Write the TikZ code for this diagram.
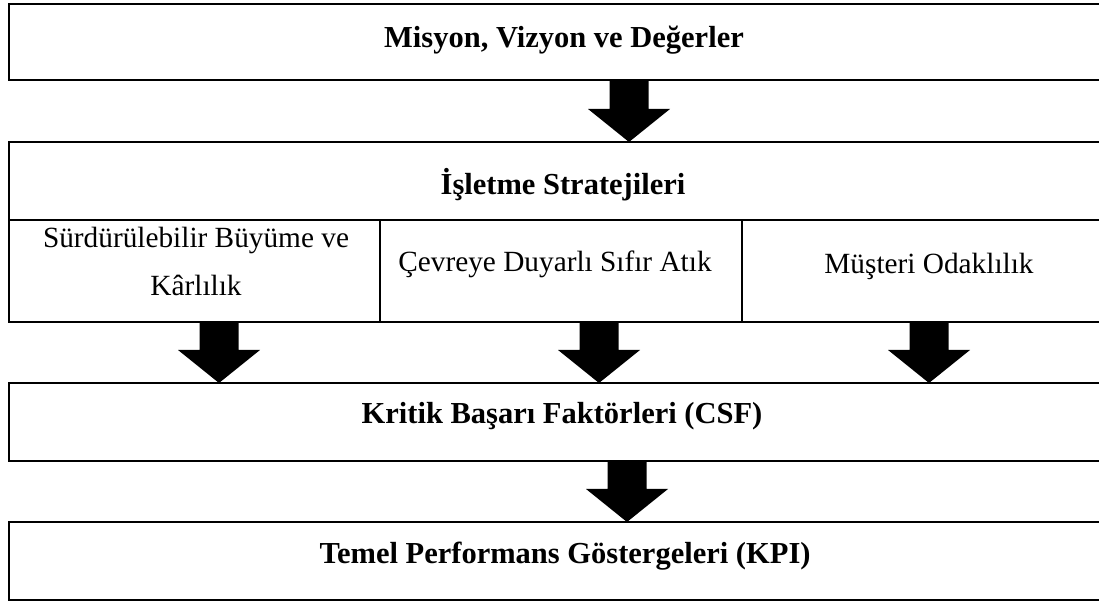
\documentclass[tikz,border=0pt]{standalone}
\usepackage{fontspec}
\setmainfont{Liberation Serif}
\usetikzlibrary{calc}

% Thick block arrow from the bottom of box #1 down to the top of box #2, centred at x = #3 (pt)
\newcommand\blockarrow[3]{%
  \fill[black] let \p1=(#1.south), \p2=(#2.north) in
    (#3pt-19.5pt,\y1) -- (#3pt+19.5pt,\y1) -- (#3pt+19.5pt,\y2+33pt) --
    (#3pt+41pt,\y2+33pt) -- (#3pt,\y2) -- (#3pt-41pt,\y2+33pt) --
    (#3pt-19.5pt,\y2+33pt) -- cycle;}

\begin{document}
\begin{tikzpicture}[x=1pt,y=1pt,
  box/.style={draw=black, line width=2pt, rectangle, inner sep=0pt, outer sep=0pt},
  heading/.style={font=\fontsize{30.5}{36}\selectfont\bfseries, anchor=base, inner sep=0pt},
  item/.style={font=\fontsize{29.3}{36}\selectfont, anchor=base, inner sep=0pt}]

\useasboundingbox (0,0) rectangle (1099,601);
\clip (0,0) rectangle (1099,601);

% boxes
\node[box, minimum width=1110pt, minimum height=76pt] (mvv) at (564,559) {};
\node[box, minimum width=1110pt, minimum height=78pt] (strat) at (564,420) {};
\node[box, minimum width=371pt, minimum height=102pt] (s1) at (194.5,330) {};
\node[box, minimum width=362pt, minimum height=102pt] (s2) at (561,330) {};
\node[box, minimum width=377pt, minimum height=102pt] (s3) at (930.5,330) {};
\node[box, minimum width=1110pt, minimum height=78pt] (csf) at (564,179) {};
\node[box, minimum width=1110pt, minimum height=78pt] (kpi) at (564,40) {};

% texts
\node[heading] (tmvv) at (564,553) {Misyon, Vizyon ve Değerler};
\node[heading] (tstrat) at (563,406) {İşletme Stratejileri};
\node[item] (ts1a) at (196,353) {Sürdürülebilir Büyüme ve};
\node[item] (ts1b) at (196,305) {Kârlılık};
\node[item] (ts2) at (555,329) {Çevreye Duyarlı Sıfır Atık};
\node[item] (ts3) at (929,327) {Müşteri Odaklılık};
\node[heading] (tcsf) at (562,177) {Kritik Başarı Faktörleri (CSF)};
\node[heading] (tkpi) at (565,37) {Temel Performans Göstergeleri (KPI)};

% arrows
\blockarrow{mvv}{strat}{629}
\blockarrow{s1}{csf}{219}
\blockarrow{s2}{csf}{599}
\blockarrow{s3}{csf}{929}
\blockarrow{csf}{kpi}{627}

\end{tikzpicture}
\end{document}
